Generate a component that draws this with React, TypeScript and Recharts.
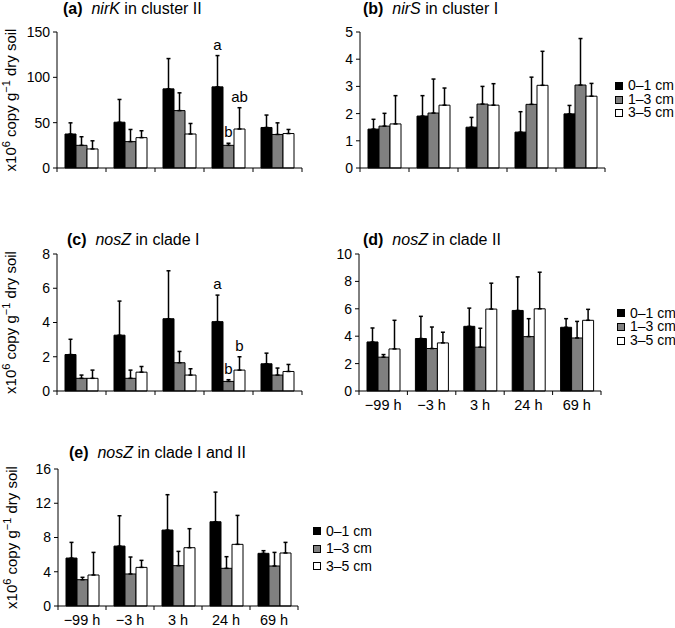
import React from 'react';
import { BarChart, Bar, XAxis, YAxis, ErrorBar, LabelList, Legend, Label } from 'recharts';

const times = ['−99 h', '−3 h', '3 h', '24 h', '69 h'];
const depths = ['0–1 cm', '1–3 cm', '3–5 cm'];

// (a) nirK in cluster II
const nirK01 = [37.5, 50.5, 87.3, 89.5, 44.7];
const nirK01Sd = [12.3, 25.1, 33.4, 34.5, 13.7];
const nirK13 = [25, 29.1, 63.3, 25, 37];
const nirK13Sd = [9.5, 13.4, 19.6, 2.3, 12.8];
const nirK35 = [21, 33.5, 37.5, 43, 38];
const nirK35Sd = [9, 7.6, 11.6, 23.5, 4.5];
const nirK01Letters = ['', '', '', 'a', ''];
const nirK13Letters = ['', '', '', 'b', ''];
const nirK35Letters = ['', '', '', 'ab', ''];

// (b) nirS in cluster I
const nirS01 = [1.43, 1.91, 1.5, 1.32, 1.99];
const nirS01Sd = [0.36, 0.75, 0.36, 0.75, 0.31];
const nirS13 = [1.54, 2.02, 2.35, 2.34, 3.05];
const nirS13Sd = [0.47, 1.25, 0.65, 1.0, 1.71];
const nirS35 = [1.62, 2.31, 2.31, 3.04, 2.64];
const nirS35Sd = [1.04, 0.63, 0.79, 1.25, 0.47];

// (c) nosZ in clade I
const nosZI01 = [2.13, 3.26, 4.22, 4.05, 1.59];
const nosZI01Sd = [0.89, 1.99, 2.8, 1.55, 0.62];
const nosZI13 = [0.74, 0.74, 1.65, 0.56, 0.93];
const nosZI13Sd = [0.19, 0.48, 0.66, 0.1, 0.41];
const nosZI35 = [0.74, 1.1, 0.93, 1.22, 1.14];
const nosZI35Sd = [0.48, 0.33, 0.37, 0.78, 0.41];
const nosZI01Letters = ['', '', '', 'a', ''];
const nosZI13Letters = ['', '', '', 'b', ''];
const nosZI35Letters = ['', '', '', 'b', ''];

// (d) nosZ in clade II
const nosZII01 = [3.58, 3.83, 4.72, 5.88, 4.65];
const nosZII01Sd = [1.02, 1.62, 1.33, 2.45, 0.63];
const nosZII13 = [2.47, 3.1, 3.2, 3.97, 3.87];
const nosZII13Sd = [0.19, 1.57, 1.38, 1.31, 1.21];
const nosZII35 = [3.07, 3.51, 5.98, 6.0, 5.16];
const nosZII35Sd = [2.09, 0.78, 1.89, 2.67, 0.8];

// (e) nosZ in clade I and II
const nosZAll01 = [5.6, 7.0, 8.87, 9.84, 6.15];
const nosZAll01Sd = [1.83, 3.54, 4.13, 3.46, 0.31];
const nosZAll13 = [3.07, 3.74, 4.71, 4.4, 4.67];
const nosZAll13Sd = [0.28, 1.98, 1.67, 1.36, 1.59];
const nosZAll35 = [3.62, 4.51, 6.81, 7.2, 6.19];
const nosZAll35Sd = [2.64, 0.82, 2.22, 3.38, 1.24];

const ticksA = [0, 50, 100, 150];
const ticksB = [0, 1, 2, 3, 4, 5];
const ticksC = [0, 2, 4, 6, 8];
const ticksD = [0, 2, 4, 6, 8, 10];
const ticksE = [0, 4, 8, 12, 16];

const FONT = 'Arial, "Liberation Sans", Helvetica, sans-serif';

const makeRows = (
  v01: number[], s01: number[], v13: number[], s13: number[], v35: number[], s35: number[],
  l01: string[] = [], l13: string[] = [], l35: string[] = []
) =>
  times.map((time, i) => ({
    time,
    d01: v01[i], d13: v13[i], d35: v35[i],
    e01: [0, s01[i]], e13: [0, s13[i]], e35: [0, s35[i]],
    l01: l01[i] || '', l13: l13[i] || '', l35: l35[i] || '',
  }));

// letter above the error bar, placed from the bar's own pixel scale
const letterLabel = (rows: any[], key: string) => (props: any) => {
  const vb = props.viewBox || props;
  const idx = props.index;
  const txt = props.value;
  if (!txt) return null;
  const row = rows[idx];
  const val = row['d' + key];
  const sd = row['e' + key][1];
  const x = vb.x ?? props.x;
  const y = vb.y ?? props.y;
  const w = vb.width ?? props.width;
  const h = vb.height ?? props.height;
  const ppu = val ? h / val : 0;
  const top = y - sd * ppu;
  return (
    <text x={x + w / 2} y={top - 6} textAnchor="middle" fontSize={15} fontFamily={FONT} fill="#000">
      {txt}
    </text>
  );
};

const YTitle = ({ cx, cy }: { cx: number; cy: number }) => (
  <text transform={`translate(${cx},${cy}) rotate(-90)`} textAnchor="middle" fontSize={15} fontFamily={FONT} fill="#000">
    x10<tspan dy={-6} fontSize={11}>6</tspan>
    <tspan dy={6}> copy g</tspan>
    <tspan dy={-6} fontSize={11}>−1</tspan>
    <tspan dy={6}> dry soil</tspan>
  </text>
);

const DepthLegend = ({ payload, rowH }: any) => (
  <div style={{ fontFamily: FONT, fontSize: 14, lineHeight: `${rowH}px`, color: '#000' }}>
    {(payload || []).map((e: any) => (
      <div key={e.value} style={{ display: 'flex', alignItems: 'center', height: rowH, whiteSpace: 'nowrap' }}>
        <span
          style={{
            display: 'inline-block', width: 8, height: 8, boxSizing: 'border-box', flex: 'none',
            border: '1px solid #000', background: e.color, marginRight: 5,
          }}
        />
        {e.value}
      </div>
    ))}
  </div>
);

interface PanelProps {
  tag: string;
  gene: string;
  rest: string;
  rows: any[];
  ticks: number[];
  left: number;
  top: number;
  width: number;
  height: number;
  margin: { top: number; right: number; bottom: number; left: number };
  yWidth: number;
  titleX: number;
  titleBase: number;
  yTitleX?: number;
  showTimes?: boolean;
  legend?: { left: number; top: number; rowH: number };
}

const Panel = (p: PanelProps) => {
  const plotW = p.width - p.margin.left - p.margin.right - p.yWidth;
  const band = plotW / times.length;
  const yMax = p.ticks[p.ticks.length - 1];

  const tick = (t: any) => {
    const { x, y, index, payload } = t;
    return (
      <g>
        <line x1={x - band / 2} x2={x - band / 2} y1={y} y2={y + 4} stroke="#000" />
        {index === times.length - 1 && (
          <line x1={x + band / 2} x2={x + band / 2} y1={y} y2={y + 4} stroke="#000" />
        )}
        {p.showTimes && (
          <text x={x} y={y + 19} textAnchor="middle" fontSize={14.5} fontFamily={FONT} fill="#000">
            {payload.value}
          </text>
        )}
      </g>
    );
  };

  return (
    <div style={{ position: 'absolute', left: p.left, top: p.top, width: p.width, height: p.height }}>
      <div
        style={{
          position: 'absolute', left: p.titleX, top: p.titleBase - 13.6, lineHeight: '16px',
          fontSize: 16, fontFamily: FONT, whiteSpace: 'nowrap', color: '#000', zIndex: 2,
        }}
      >
        <b>{p.tag}</b>&nbsp;&nbsp;<i>{p.gene}</i>{p.rest}
      </div>
      <BarChart width={p.width} height={p.height} data={p.rows} margin={p.margin} barGap={0}>
        <XAxis
          dataKey="time"
          height={1}
          axisLine={{ stroke: '#000' }}
          tickLine={false}
          tickSize={0}
          tickMargin={0}
          interval={0}
          tick={tick}
        />
        <YAxis
          type="number"
          domain={[0, yMax]}
          ticks={p.ticks}
          interval={0}
          width={p.yWidth}
          axisLine={{ stroke: '#000' }}
          tickLine={{ stroke: '#000' }}
          tickSize={4}
          tickMargin={3}
          tick={{ fill: '#000', fontSize: 14, fontFamily: FONT }}
        >
          {p.yTitleX !== undefined && (
            <Label
              content={(lp: any) => {
                const vb = lp.viewBox || {};
                return <YTitle cx={p.yTitleX as number} cy={vb.y + vb.height / 2} />;
              }}
            />
          )}
        </YAxis>
        {p.legend && (
          <Legend
            layout="horizontal"
            verticalAlign="middle"
            align="center"
            wrapperStyle={{ left: p.legend.left, top: p.legend.top, width: 60, height: p.legend.rowH * 3 }}
            content={(lp: any) => <DepthLegend payload={lp.payload} rowH={p.legend!.rowH} />}
          />
        )}
        <Bar dataKey="d01" name={depths[0]} fill="#000000" stroke="#000" strokeWidth={1} barSize={11} isAnimationActive={false}>
          <ErrorBar dataKey="e01" width={2} stroke="#000" strokeWidth={1.5} />
          <LabelList dataKey="l01" content={letterLabel(p.rows, '01')} />
        </Bar>
        <Bar dataKey="d13" name={depths[1]} fill="#808080" stroke="#000" strokeWidth={1} barSize={11} isAnimationActive={false}>
          <ErrorBar dataKey="e13" width={2} stroke="#000" strokeWidth={1.5} />
          <LabelList dataKey="l13" content={letterLabel(p.rows, '13')} />
        </Bar>
        <Bar dataKey="d35" name={depths[2]} fill="#ffffff" stroke="#000" strokeWidth={1} barSize={11} isAnimationActive={false}>
          <ErrorBar dataKey="e35" width={2} stroke="#000" strokeWidth={1.5} />
          <LabelList dataKey="l35" content={letterLabel(p.rows, '35')} />
        </Bar>
      </BarChart>
    </div>
  );
};

const rowsA = makeRows(nirK01, nirK01Sd, nirK13, nirK13Sd, nirK35, nirK35Sd, nirK01Letters, nirK13Letters, nirK35Letters);
const rowsB = makeRows(nirS01, nirS01Sd, nirS13, nirS13Sd, nirS35, nirS35Sd);
const rowsC = makeRows(nosZI01, nosZI01Sd, nosZI13, nosZI13Sd, nosZI35, nosZI35Sd, nosZI01Letters, nosZI13Letters, nosZI35Letters);
const rowsD = makeRows(nosZII01, nosZII01Sd, nosZII13, nosZII13Sd, nosZII35, nosZII35Sd);
const rowsE = makeRows(nosZAll01, nosZAll01Sd, nosZAll13, nosZAll13Sd, nosZAll35, nosZAll35Sd);

export default function App() {
  return (
    <div style={{ position: 'absolute', left: 0, top: 0, width: 675, height: 628, background: '#fff', fontFamily: FONT }}>
      <Panel
        tag="(a)" gene="nirK" rest=" in cluster II" rows={rowsA} ticks={ticksA}
        left={0} top={0} width={330} height={185}
        margin={{ top: 32, right: 28, bottom: 16, left: 5 }} yWidth={52}
        titleX={63} titleBase={15} yTitleX={16}
      />
      <Panel
        tag="(b)" gene="nirS" rest=" in cluster I" rows={rowsB} ticks={ticksB}
        left={330} top={0} width={345} height={185}
        margin={{ top: 32, right: 70, bottom: 16, left: 0 }} yWidth={30}
        titleX={33} titleBase={15}
        legend={{ left: 285, top: 79, rowH: 13.7 }}
      />
      <Panel
        tag="(c)" gene="nosZ" rest=" in clade I" rows={rowsC} ticks={ticksC}
        left={0} top={205} width={330} height={200}
        margin={{ top: 49, right: 28, bottom: 13, left: 5 }} yWidth={52}
        titleX={67} titleBase={41} yTitleX={16}
      />
      <Panel
        tag="(d)" gene="nosZ" rest=" in clade II" rows={rowsD} ticks={ticksD}
        left={330} top={205} width={345} height={215}
        margin={{ top: 49, right: 74, bottom: 28, left: 0 }} yWidth={29}
        titleX={33} titleBase={41} showTimes
        legend={{ left: 287, top: 101.5, rowH: 13.7 }}
      />
      <Panel
        tag="(e)" gene="nosZ" rest=" in clade I and II" rows={rowsE} ticks={ticksE}
        left={0} top={420} width={330} height={208}
        margin={{ top: 49, right: 32, bottom: 21, left: 5 }} yWidth={53}
        titleX={69} titleBase={39} yTitleX={17} showTimes
        legend={{ left: 313, top: 102.5, rowH: 17.5 }}
      />
    </div>
  );
}
